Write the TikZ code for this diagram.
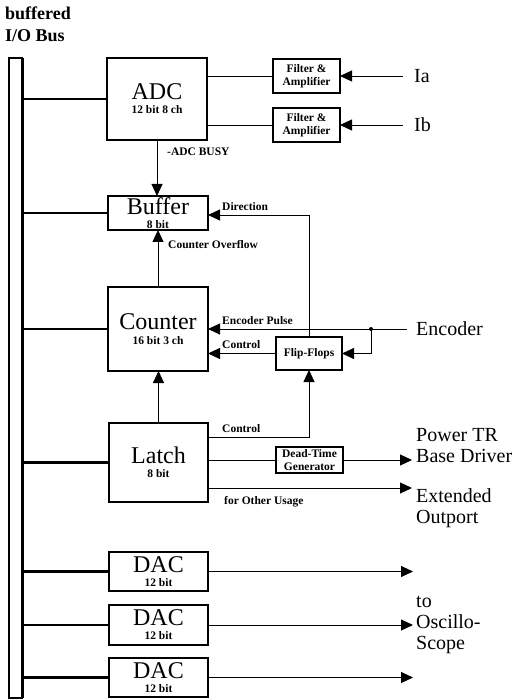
\documentclass[tikz,border=0pt]{standalone}
\usepackage{fontspec}
\setmainfont{Liberation Serif}
\usetikzlibrary{arrows.meta}
\newcommand\blk[5][2pt]{\parbox[c][#3][c]{#2}{\centering{\fontsize{24}{24}\selectfont #4\par}\vskip#1{\bfseries\fontsize{11.5}{12}\selectfont #5\par}}}
\newcommand\sbx[3]{\parbox[c][#2][c]{#1}{\centering\bfseries\fontsize{11.5}{12.5}\selectfont #3\par}}
\tikzset{
  blkbox/.style={draw, line width=1.2pt, inner sep=0pt, outer sep=0pt},
  busln/.style={line width=2.6pt},
  sig/.style={line width=0.9pt},
  arr/.style={sig, -{Triangle[length=12pt,width=11pt]}},
  lbl/.style={font=\bfseries\fontsize{11.5}{12}\selectfont, inner sep=0pt, anchor=west},
  biglbl/.style={font=\fontsize{20}{21}\selectfont, inner sep=0pt, anchor=west, align=left},
}
\begin{document}
\begin{tikzpicture}[x=1pt,y=-1pt]
\useasboundingbox (0,0) rectangle (517,700);
% bus
\node[draw, line width=1.2pt, minimum width=13pt, minimum height=640pt, inner sep=0pt, outer sep=0pt] (bus) at (15.5,378) {};
\draw[line width=3pt] (bus.north east) -- (bus.south east);
\node[font=\bfseries\fontsize{18}{22}\selectfont, inner sep=0pt, anchor=north west, align=left] (bustitle) at (5,7) {buffered\\I/O Bus};
% blocks
\node[blkbox] (adc) at (157,99) {\blk{100pt}{82pt}{ADC}{12 bit 8 ch}};
\node[blkbox] (buf) at (158,213) {\blk[2.5pt]{100pt}{34pt}{Buffer}{8 bit}};
\node[blkbox] (cnt) at (158,329) {\blk[3pt]{100pt}{84pt}{Counter}{16 bit 3 ch}};
\node[blkbox] (lat) at (158.5,462.5) {\blk{99pt}{79pt}{Latch}{8 bit}};
\node[blkbox] (dac1) at (158.5,571.5) {\blk{99pt}{39pt}{DAC}{12 bit}};
\node[blkbox] (dac2) at (158.5,625) {\blk{99pt}{40pt}{DAC}{12 bit}};
\node[blkbox] (dac3) at (158.5,677.5) {\blk{99pt}{39pt}{DAC}{12 bit}};
\node[blkbox] (f1) at (306.5,76) {\sbx{67pt}{34pt}{Filter \&\\Amplifier}};
\node[blkbox] (f2) at (306.5,125) {\sbx{67pt}{34pt}{Filter \&\\Amplifier}};
\node[blkbox] (ff) at (309,353.5) {\sbx{66pt}{33pt}{Flip-Flops}};
\node[blkbox] (dtg) at (309.5,460) {\sbx{67pt}{26pt}{Dead-Time\\Generator}};
% bus connections
\foreach \b in {adc,buf,cnt,lat,dac1,dac2,dac3}
  \draw[busln] (bus.east |- \b.west) -- (\b.west);
% coordinates
\coordinate (ia) at (403,76);
\coordinate (ib) at (403,125);
\coordinate (enc) at (407,329);
\coordinate (dot) at (371,329);
\coordinate (dir) at (309,215);
\coordinate (pw) at (412,460);
\coordinate (ext) at (412,488);
\coordinate (o1) at (413,571.5);
\coordinate (o2) at (413,625);
\coordinate (o3) at (413,677.5);
% ADC / filters
\draw[sig] (adc.east |- f1.west) -- (f1.west);
\draw[sig] (adc.east |- f2.west) -- (f2.west);
\draw[arr] (ia) -- (f1.east);
\draw[arr] (ib) -- (f2.east);
\node[biglbl] (ialbl) at (414,76) {Ia};
\node[biglbl] (iblbl) at (414,125) {Ib};
% ADC -> buffer
\draw[arr] (adc.south) -- (adc.south |- buf.north);
\node[lbl] (busy) at (167,152) {-ADC BUSY};
% direction
\draw[arr] (ff.north) -- (dir) -- (buf.east |- dir);
\node[lbl] (dirlbl) at (222,207) {Direction};
% counter overflow
\draw[arr] (buf.south |- cnt.north) -- (buf.south);
\node[lbl] (ovf) at (168,245) {Counter Overflow};
% encoder
\draw[arr] (enc) -- (cnt.east |- enc);
\draw[arr] (dot) |- (ff.east);
\fill (dot) circle (2pt);
\node[lbl] (encp) at (222,321) {Encoder Pulse};
\node[biglbl] (enclbl) at (416,329) {Encoder};
\draw[arr] (ff.west) -- (cnt.east |- ff.west);
\node[lbl] (ctl1) at (222,345) {Control};
% latch
\draw[arr] (lat.north) -- (lat.north |- cnt.south);
\draw[arr] ([yshift=-14pt]lat.north east) -| (ff.south);
\node[lbl] (ctl2) at (222,429) {Control};
\draw[sig] (lat.east |- dtg.west) -- (dtg.west);
\draw[arr] (dtg.east) -- (pw);
\draw[arr] ([yshift=14pt]lat.south east) -- (ext);
\node[lbl] (other) at (224,502) {for Other Usage};
\node[biglbl] (pwlbl) at (416,446) {Power TR\\Base Driver};
\node[biglbl] (extlbl) at (416,508) {Extended\\Outport};
% DACs
\draw[arr] (dac1.east) -- (o1);
\draw[arr] (dac2.east) -- (o2);
\draw[arr] (dac3.east) -- (o3);
\node[biglbl] (osc) at (416,625) {to\\Oscillo-\\Scope};
\end{tikzpicture}
\end{document}
